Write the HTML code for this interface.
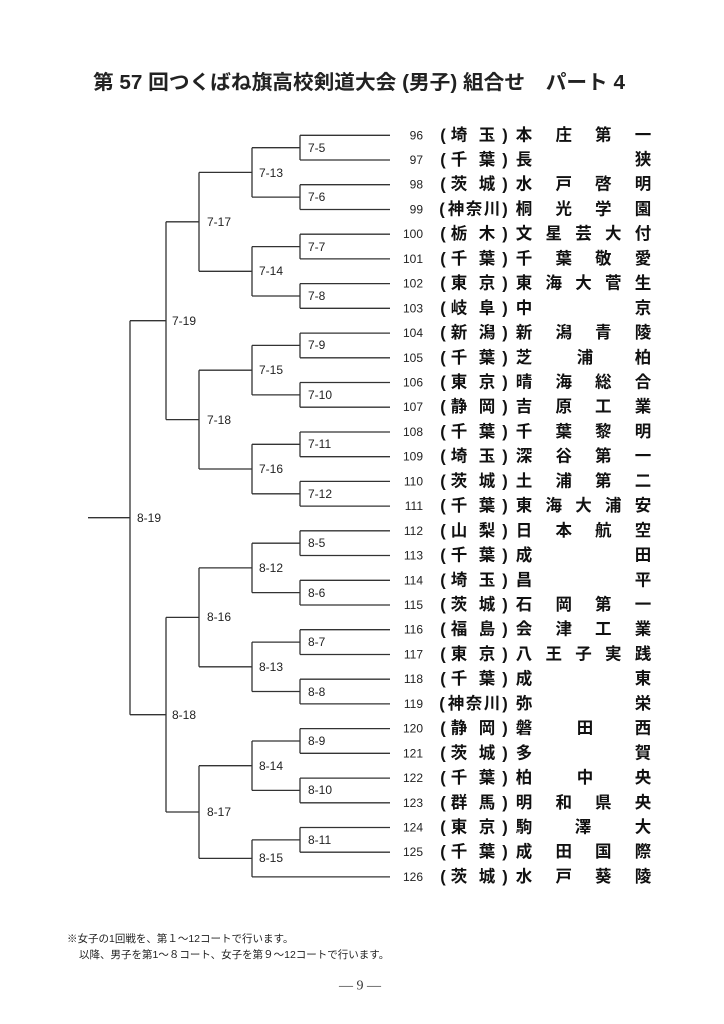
<!DOCTYPE html>
<html><head><meta charset="utf-8"><style>
html,body{margin:0;padding:0;background:#fff;}
svg{display:block;}
.n{font-family:"Liberation Sans",sans-serif;font-size:12px;fill:#222;}
.p,.s{font-family:"Liberation Sans","Noto Sans CJK JP",sans-serif;font-size:16.5px;font-weight:bold;fill:#111;text-anchor:middle;}
.l{font-family:"Liberation Sans",sans-serif;font-size:12px;fill:#222;}
text{dominant-baseline:central;}
</style></head><body>
<svg width="724" height="1024" viewBox="0 0 724 1024" xmlns="http://www.w3.org/2000/svg">
<text x="93" y="83" textLength="532" lengthAdjust="spacingAndGlyphs" style="font-family:'Liberation Sans','Noto Sans CJK JP',sans-serif;font-size:20px;font-weight:bold;fill:#222">第 57 回つくばね旗高校剣道大会 (男子) 組合せ　パート 4</text>

<g stroke="#333" stroke-width="1.3" fill="none">
<!-- team lines -->
<path d="M300 135.3H390M300 160H390M300 184.7H390M300 209.5H390M300 234.2H390M300 258.9H390M300 283.6H390M300 308.3H390M300 333.1H390M300 357.8H390M300 382.5H390M300 407.2H390M300 432H390M300 456.7H390M300 481.4H390M300 506.1H390M300 530.8H390M300 555.5H390M300 580.3H390M300 605H390M300 629.7H390M300 654.5H390M300 679.2H390M300 703.9H390M300 728.6H390M300 753.3H390M300 778.1H390M300 802.8H390M300 827.5H390M300 852.2H390M252 876.9H390"/>
<!-- L1 verticals -->
<path d="M300 135.3V160M300 184.7V209.5M300 234.2V258.9M300 283.6V308.3M300 333.1V357.8M300 382.5V407.2M300 432V456.7M300 481.4V506.1M300 530.8V555.5M300 580.3V605M300 629.7V654.5M300 679.2V703.9M300 728.6V753.3M300 778.1V802.8M300 827.5V852.2"/>
<!-- L1 horizontals -->
<path d="M252 147.7H300M252 197.1H300M252 246.6H300M252 296H300M252 345.4H300M252 394.9H300M252 444.3H300M252 493.8H300M252 543.2H300M252 592.6H300M252 642.1H300M252 691.5H300M252 741H300M252 790.4H300M252 839.9H300"/>
<!-- L2 -->
<path d="M252 147.7V197.1M252 246.6V296M252 345.4V394.9M252 444.3V493.8M252 543.2V592.6M252 642.1V691.5M252 741V790.4M252 839.9V876.9"/>
<path d="M199 172.4H252M199 271.3H252M199 370.2H252M199 469H252M199 567.9H252M199 666.8H252M199 765.7H252M199 858.4H252"/>
<!-- L3 -->
<path d="M199 172.4V271.3M199 370.2V469M199 567.9V666.8M199 765.7V858.4"/>
<path d="M166 221.8H199M166 419.6H199M166 617.4H199M166 812H199"/>
<!-- L4 -->
<path d="M166 221.8V419.6M166 617.4V812M130 320.7H166M130 714.7H166"/>
<!-- L5 -->
<path d="M130 320.7V714.7M88 517.7H130"/>
</g>

<g class="l">
<text x="308" y="148">7-5</text><text x="308" y="197">7-6</text><text x="308" y="247">7-7</text><text x="308" y="296">7-8</text>
<text x="308" y="345">7-9</text><text x="308" y="395">7-10</text><text x="308" y="444">7-11</text><text x="308" y="494">7-12</text>
<text x="308" y="543">8-5</text><text x="308" y="593">8-6</text><text x="308" y="642">8-7</text><text x="308" y="692">8-8</text>
<text x="308" y="741">8-9</text><text x="308" y="790">8-10</text><text x="308" y="840">8-11</text>
<text x="259" y="173">7-13</text><text x="259" y="271">7-14</text><text x="259" y="370">7-15</text><text x="259" y="469">7-16</text>
<text x="259" y="568">8-12</text><text x="259" y="667">8-13</text><text x="259" y="766">8-14</text><text x="259" y="858">8-15</text>
<text x="207" y="222">7-17</text><text x="207" y="420">7-18</text><text x="207" y="617">8-16</text><text x="207" y="812">8-17</text>
<text x="172" y="321">7-19</text><text x="172" y="715">8-18</text>
<text x="137" y="518">8-19</text>
</g>

<g class="n" text-anchor="end">
<text x="423" y="135.3">96</text><text x="423" y="160">97</text><text x="423" y="184.7">98</text><text x="423" y="209.5">99</text>
<text x="423" y="234.2">100</text><text x="423" y="258.9">101</text><text x="423" y="283.6">102</text><text x="423" y="308.3">103</text>
<text x="423" y="333.1">104</text><text x="423" y="357.8">105</text><text x="423" y="382.5">106</text><text x="423" y="407.2">107</text>
<text x="423" y="432">108</text><text x="423" y="456.7">109</text><text x="423" y="481.4">110</text><text x="423" y="506.1">111</text>
<text x="423" y="530.8">112</text><text x="423" y="555.5">113</text><text x="423" y="580.3">114</text><text x="423" y="605">115</text>
<text x="423" y="629.7">116</text><text x="423" y="654.5">117</text><text x="423" y="679.2">118</text><text x="423" y="703.9">119</text>
<text x="423" y="728.6">120</text><text x="423" y="753.3">121</text><text x="423" y="778.1">122</text><text x="423" y="802.8">123</text>
<text x="423" y="827.5">124</text><text x="423" y="852.2">125</text><text x="423" y="876.9">126</text>
</g>

<g class="p">
<text x="443 459 487 505" y="135.3">(埼玉)</text>
<text x="443 459 487 505" y="160">(千葉)</text>
<text x="443 459 487 505" y="184.7">(茨城)</text>
<text x="442 456 474 492 505" y="209.5">(神奈川)</text>
<text x="443 459 487 505" y="234.2">(栃木)</text>
<text x="443 459 487 505" y="258.9">(千葉)</text>
<text x="443 459 487 505" y="283.6">(東京)</text>
<text x="443 459 487 505" y="308.3">(岐阜)</text>
<text x="443 459 487 505" y="333.1">(新潟)</text>
<text x="443 459 487 505" y="357.8">(千葉)</text>
<text x="443 459 487 505" y="382.5">(東京)</text>
<text x="443 459 487 505" y="407.2">(静岡)</text>
<text x="443 459 487 505" y="432">(千葉)</text>
<text x="443 459 487 505" y="456.7">(埼玉)</text>
<text x="443 459 487 505" y="481.4">(茨城)</text>
<text x="443 459 487 505" y="506.1">(千葉)</text>
<text x="443 459 487 505" y="530.8">(山梨)</text>
<text x="443 459 487 505" y="555.5">(千葉)</text>
<text x="443 459 487 505" y="580.3">(埼玉)</text>
<text x="443 459 487 505" y="605">(茨城)</text>
<text x="443 459 487 505" y="629.7">(福島)</text>
<text x="443 459 487 505" y="654.5">(東京)</text>
<text x="443 459 487 505" y="679.2">(千葉)</text>
<text x="442 456 474 492 505" y="703.9">(神奈川)</text>
<text x="443 459 487 505" y="728.6">(静岡)</text>
<text x="443 459 487 505" y="753.3">(茨城)</text>
<text x="443 459 487 505" y="778.1">(千葉)</text>
<text x="443 459 487 505" y="802.8">(群馬)</text>
<text x="443 459 487 505" y="827.5">(東京)</text>
<text x="443 459 487 505" y="852.2">(千葉)</text>
<text x="443 459 487 505" y="876.9">(茨城)</text>
</g>

<g class="s">
<text x="524 563.7 603.3 643" y="135.3">本庄第一</text>
<text x="524 643" y="160">長狭</text>
<text x="524 563.7 603.3 643" y="184.7">水戸啓明</text>
<text x="524 563.7 603.3 643" y="209.5">桐光学園</text>
<text x="524 553.75 583.5 613.25 643" y="234.2">文星芸大付</text>
<text x="524 563.7 603.3 643" y="258.9">千葉敬愛</text>
<text x="524 553.75 583.5 613.25 643" y="283.6">東海大菅生</text>
<text x="524 643" y="308.3">中京</text>
<text x="524 563.7 603.3 643" y="333.1">新潟青陵</text>
<text x="524 585 643" y="357.8">芝浦柏</text>
<text x="524 563.7 603.3 643" y="382.5">晴海総合</text>
<text x="524 563.7 603.3 643" y="407.2">吉原工業</text>
<text x="524 563.7 603.3 643" y="432">千葉黎明</text>
<text x="524 563.7 603.3 643" y="456.7">深谷第一</text>
<text x="524 563.7 603.3 643" y="481.4">土浦第二</text>
<text x="524 553.75 583.5 613.25 643" y="506.1">東海大浦安</text>
<text x="524 563.7 603.3 643" y="530.8">日本航空</text>
<text x="524 643" y="555.5">成田</text>
<text x="524 643" y="580.3">昌平</text>
<text x="524 563.7 603.3 643" y="605">石岡第一</text>
<text x="524 563.7 603.3 643" y="629.7">会津工業</text>
<text x="524 553.75 583.5 613.25 643" y="654.5">八王子実践</text>
<text x="524 643" y="679.2">成東</text>
<text x="524 643" y="703.9">弥栄</text>
<text x="524 585 643" y="728.6">磐田西</text>
<text x="524 643" y="753.3">多賀</text>
<text x="524 585 643" y="778.1">柏中央</text>
<text x="524 563.7 603.3 643" y="802.8">明和県央</text>
<text x="524 583 643" y="827.5">駒澤大</text>
<text x="524 563.7 603.3 643" y="852.2">成田国際</text>
<text x="524 563.7 603.3 643" y="876.9">水戸葵陵</text>
</g>

<g style="font-family:'Liberation Sans','Noto Sans CJK JP',sans-serif;font-size:10.5px;fill:#222">
<text x="67" y="939">※女子の1回戦を、第１～12コートで行います。</text>
<text x="79" y="955">以降、男子を第1～８コート、女子を第９～12コートで行います。</text>
</g>
<text x="360" y="986" text-anchor="middle" style="font-family:'Liberation Serif',serif;font-size:14px;fill:#333">— 9 —</text>
</svg>
</body></html>
